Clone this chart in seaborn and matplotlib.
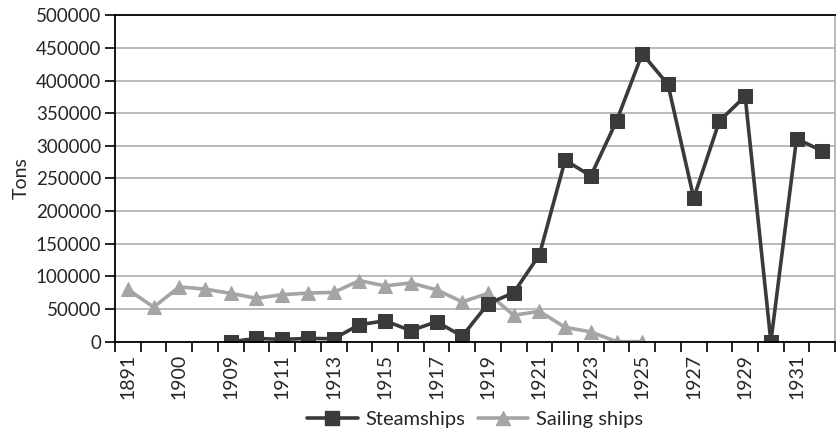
import numpy as np
import pandas as pd
import matplotlib
matplotlib.use("Agg")
import matplotlib.pyplot as plt
from matplotlib.ticker import FixedLocator
from matplotlib.lines import Line2D
import seaborn as sns

# x categories (only every other one is labelled in the chart)
years = ["1891", "1895", "1900", "1905"] + [str(y) for y in range(1909, 1933)]

# tonnage (None = no value)
steamships = [None, None, None, None,
              0, 5000, 3500, 5000, 4500, 26000, 32000, 17000, 30500, 8500,
              58000, 75000, 133000, 278000, 254000, 338000, 441000, 394000,
              220000, 338000, 376000, 0, 311000, 292000]
sailing_ships = [80000, 53000, 84000, 80500,
                 74000, 66500, 72000, 74500, 75500, 93500, 85500, 90000, 79500, 61000,
                 74000, 40500, 46500, 22000, 15000, 0, 0, None,
                 None, None, None, None, None, None]

pos = np.arange(len(years))
df = pd.concat([
    pd.DataFrame({"pos": pos, "tons": steamships, "series": "Steamships"}),
    pd.DataFrame({"pos": pos, "tons": sailing_ships, "series": "Sailing ships"}),
]).dropna()
df["tons"] = df["tons"].astype(float)

sns.set_style("white")
plt.rcParams["font.family"] = ["Lato", "DejaVu Sans"]

steam_color = "#3a3a3a"
sail_color = "#a5a5a5"

fig = plt.figure(figsize=(8.36, 4.36), dpi=100)
ax = fig.add_axes([0.1376, 0.2163, 0.8614, 0.7487])

sns.lineplot(data=df[df["series"] == "Sailing ships"], x="pos", y="tons", ax=ax,
             color=sail_color, linewidth=2.6, marker="^", markersize=9.5,
             markeredgecolor=sail_color, legend=False)
sns.lineplot(data=df[df["series"] == "Steamships"], x="pos", y="tons", ax=ax,
             color=steam_color, linewidth=2.6, marker="s", markersize=9.5,
             markeredgecolor=steam_color, legend=False)

ax.set_xlim(-0.5, len(years) - 0.5)
ax.set_ylim(0, 500000)
ax.set_yticks(np.arange(0, 500001, 50000))
ax.set_yticklabels([str(v) for v in range(0, 500001, 50000)], fontsize=13.5)
ax.yaxis.grid(True, color="#b4b4b4", linewidth=1.3)
ax.set_axisbelow(True)

ax.set_xticks(pos)
ax.set_xticklabels([y if i % 2 == 0 else "" for i, y in enumerate(years)],
                   rotation=90, fontsize=14)
ax.xaxis.set_minor_locator(FixedLocator(np.arange(-0.5, len(years), 1.0)))
ax.tick_params(axis="x", which="major", length=0, pad=9)
ax.tick_params(axis="x", which="minor", length=7, width=1.2, color="black", bottom=True)
ax.tick_params(axis="y", length=7, width=1.2, color="black", left=True, pad=3)

for side in ["left", "bottom", "top"]:
    ax.spines[side].set_color("black")
    ax.spines[side].set_linewidth(1.3)
ax.spines["right"].set_color("#b4b4b4")
ax.spines["right"].set_linewidth(1.3)

ax.set_xlabel("")
ax.set_ylabel("Tons", fontsize=14, labelpad=4)

handles = [
    Line2D([], [], color=steam_color, linewidth=2.6, marker="s", markersize=9.5),
    Line2D([], [], color=sail_color, linewidth=2.6, marker="^", markersize=9.5),
]
ax.legend(handles, ["Steamships", "Sailing ships"], loc="center",
          bbox_to_anchor=(0.5, -0.238), ncol=2, frameon=False, fontsize=14.5,
          handlelength=2.5, columnspacing=0.6, handletextpad=0.4)

fig.savefig("out.png", dpi=100)
